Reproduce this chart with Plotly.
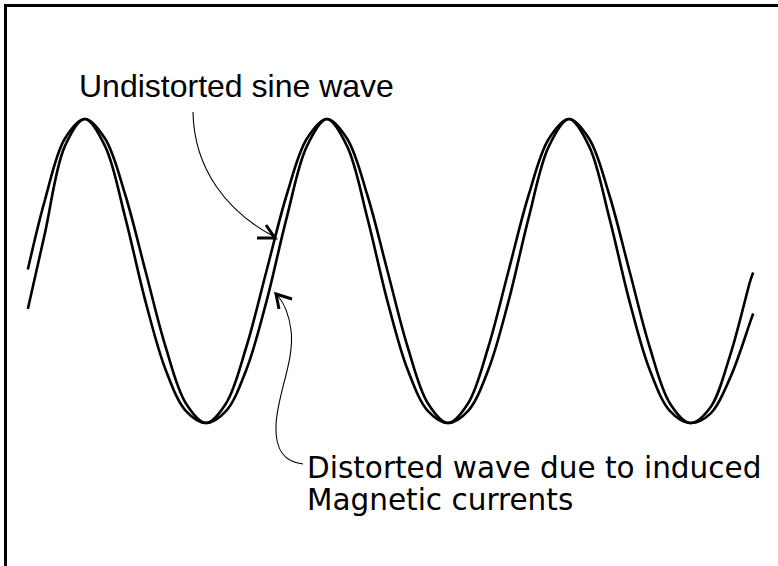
import plotly.graph_objects as go

W, H = 778, 566

# phase of the wave in degrees (x) and normalised amplitude (y)
phase_deg = [5, 30, 60, 90, 120, 150, 180, 210, 240, 270, 300, 330, 360,
             390, 420, 450, 480, 510, 540, 570, 600, 630, 660, 690, 720,
             750, 780, 810, 840, 870, 900, 930, 960, 990, 1020, 1050, 1080, 1084]
undistorted = [0.01, 0.46, 0.87, 1.00, 0.87, 0.50, 0.00, -0.50, -0.87, -1.00, -0.87, -0.50, 0.00,
               0.50, 0.87, 1.00, 0.87, 0.50, 0.00, -0.50, -0.87, -1.00, -0.87, -0.50, 0.00,
               0.50, 0.87, 1.00, 0.87, 0.50, 0.00, -0.50, -0.87, -1.00, -0.90, -0.55, -0.06, -0.01]
distorted = [-0.25, 0.24, 0.82, 1.00, 0.82, 0.35, -0.20, -0.65, -0.92, -1.00, -0.92, -0.65, -0.20,
             0.35, 0.82, 1.00, 0.82, 0.35, -0.20, -0.65, -0.92, -1.00, -0.92, -0.65, -0.20,
             0.35, 0.82, 1.00, 0.82, 0.35, -0.20, -0.65, -0.92, -1.00, -0.94, -0.70, -0.33, -0.28]

label_undistorted = "Undistorted sine wave"
label_distorted_1 = "Distorted wave due to induced"
label_distorted_2 = "Magnetic currents"

X_RANGE = [-36.4, 1120.9]
Y_RANGE = [-1.941, 1.783]


def px(x):
    return x / W


def py(y):
    return 1 - y / H


def path(points):
    s = "M {} {}".format(px(points[0][0]), py(points[0][1]))
    rest = points[1:]
    for i in range(0, len(rest), 3):
        (a, b), (c, d), (e, f) = rest[i:i + 3]
        s += " C {} {}, {} {}, {} {}".format(px(a), py(b), px(c), py(d), px(e), py(f))
    return s


def poly(points):
    s = "M {} {}".format(px(points[0][0]), py(points[0][1]))
    for (a, b) in points[1:]:
        s += " L {} {}".format(px(a), py(b))
    return s


fig = go.Figure()
for ys in (undistorted, distorted):
    fig.add_trace(go.Scatter(
        x=phase_deg, y=ys, mode="lines",
        line=dict(color="black", width=2.6, shape="spline", smoothing=1.0),
        hoverinfo="skip", showlegend=False,
    ))

shapes = [
    # frame (left and top edges)
    dict(type="path", xref="paper", yref="paper",
         path=poly([(5.5, H + 5), (5.5, 5.5), (W + 5, 5.5)]),
         line=dict(color="black", width=3)),
    # leader to undistorted wave
    dict(type="path", xref="paper", yref="paper",
         path=path([(193, 112), (194, 170), (228, 212), (273, 236)]),
         line=dict(color="black", width=1.1)),
    dict(type="path", xref="paper", yref="paper",
         path=poly([(257, 238), (275, 238), (266, 225)]),
         line=dict(color="black", width=3)),
    # leader to distorted wave
    dict(type="path", xref="paper", yref="paper",
         path=path([(303, 464), (284, 462), (275, 450), (276, 425),
                    (277, 395), (295, 360), (291, 330),
                    (289, 315), (284, 303), (278, 296)]),
         line=dict(color="black", width=1.1)),
    dict(type="path", xref="paper", yref="paper",
         path=poly([(292, 299), (276, 294), (279, 309)]),
         line=dict(color="black", width=3)),
]

annotations = [
    dict(text=label_undistorted, xref="paper", yref="paper",
         x=px(77), y=py(86), xanchor="left", yanchor="middle", showarrow=False,
         font=dict(family="Liberation Sans, Arial, sans-serif", size=32, color="black")),
    dict(text=label_distorted_1, xref="paper", yref="paper",
         x=px(305), y=py(468), xanchor="left", yanchor="middle", showarrow=False,
         font=dict(family="DejaVu Sans, sans-serif", size=29.5, color="black")),
    dict(text=label_distorted_2, xref="paper", yref="paper",
         x=px(305), y=py(500), xanchor="left", yanchor="middle", showarrow=False,
         font=dict(family="DejaVu Sans, sans-serif", size=29.5, color="black")),
]

fig.update_layout(
    width=W, height=H,
    margin=dict(l=0, r=0, t=0, b=0),
    paper_bgcolor="white", plot_bgcolor="white",
    xaxis=dict(visible=False, range=X_RANGE, fixedrange=True),
    yaxis=dict(visible=False, range=Y_RANGE, fixedrange=True),
    shapes=shapes, annotations=annotations, showlegend=False,
)

fig.write_html(
    "out.html",
    config={"displayModeBar": False},
    post_script="document.body.style.margin='0px';document.body.style.overflow='hidden';",
)
